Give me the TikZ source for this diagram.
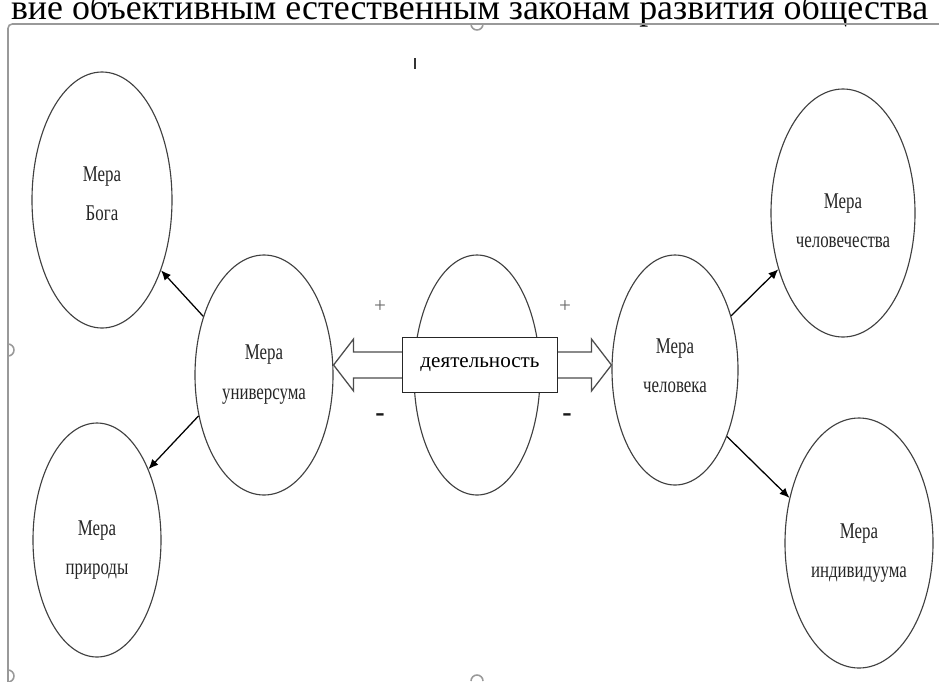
\documentclass[tikz,border=0pt]{standalone}
\usepackage{fontspec}
\setmainfont{Liberation Serif}
\newfontfamily\narrowfont[FakeStretch=0.75]{Liberation Serif}
\usetikzlibrary{
    arrows.meta,
    shapes.geometric
}

\begin{document}
\begin{tikzpicture}[->,>={Latex[length=7pt,width=6pt]},line width=0.9pt]
    \tikzstyle{mera}=[shape=ellipse, draw=black!75, line width=0.8pt, inner sep=0pt]
    \tikzstyle{meratext}=[align=center, text=black!85, font=\narrowfont\fontsize{16}{28}\selectfont]
    \tikzstyle{frameline}=[-, draw=black!40, line width=1.1pt]
    \tikzstyle{blockarrow}=[-, draw=black!70, line width=0.9pt, fill=white]
    \tikzstyle{sign}=[text=black!60, font=\rmfamily\fontsize{15}{15}\selectfont]
	\fill[white] (0,0) rectangle (23.475,-17.025);
	\useasboundingbox (0,0) rectangle (23.475,-17.025);

	\node[anchor=base, font=\rmfamily\fontsize{25.5}{30}\selectfont] (title) at (11.74, -0.48) {вие объективным естественным законам развития общества};
	\draw[frameline, rounded corners=3pt] (0.2, -17.1) |- (23.6, -0.6);
	\draw[frameline] (11.775, -0.6) arc (180:360:0.15);
	\draw[frameline] (0.2, -8.6) arc (90:-90:0.15);
	\draw[frameline] (0.2, -16.75) arc (90:-90:0.15);
	\draw[frameline] (11.775, -17.025) arc (180:0:0.15);
	\draw[-, line width=1.6pt, black!80] (10.375, -1.45) -- (10.375, -1.725);

	% ellipses
	\node[mera, minimum width=3.5cm, minimum height=6.4cm] (boga) at (2.55, -5.0) {};
	\node[mera, minimum width=3.45cm, minimum height=6.0cm] (univ) at (6.6, -9.375) {};
	\node[mera, minimum width=3.2cm, minimum height=5.85cm] (prir) at (2.425, -13.5) {};
	\node[mera, minimum width=3.15cm, minimum height=6.0cm] (mid) at (11.925, -9.375) {};
	\node[mera, minimum width=3.15cm, minimum height=5.75cm] (chel) at (16.875, -9.25) {};
	\node[mera, minimum width=3.6cm, minimum height=6.2cm] (chelv) at (21.075, -5.325) {};
	\node[mera, minimum width=3.7cm, minimum height=6.25cm] (indiv) at (21.475, -13.575) {};

	% texts
	\node[meratext] (bogaT) at (2.55, -4.85) {Мера\\ Бога};
	\node[meratext] (univT) at (6.6, -9.36) {Мера\\ универсума};
	\node[meratext] (prirT) at (2.425, -13.75) {Мера\\ природы};
	\node[meratext] (chelT) at (16.875, -9.15) {Мера\\ человека};
	\node[meratext] (chelvT) at (21.075, -5.525) {Мера\\ человечества};
	\node[meratext] (indivT) at (21.475, -13.825) {Мера\\ индивидуума};

	\draw (univ.136) -- (boga.-50);
	\draw (univ.212) -- (prir.54);
	\draw (chel.44) -- (chelv.221);
	\draw (chel.-52) -- (indiv.147);

	\node[draw=black!85, fill=white, line width=0.9pt, minimum width=3.875cm, minimum height=1.375cm, font=\rmfamily\fontsize{15}{15}\selectfont] (box) at (12.0, -9.125) {деятельность};
	\coordinate (ltip) at (univ.east |- box.west);
	\coordinate (rtip) at (chel.west |- box.east);
	\draw[blockarrow] ([yshift=0.325cm]box.west) -- ([xshift=0.5cm, yshift=0.325cm]ltip) -- ([xshift=0.5cm, yshift=0.65cm]ltip) -- (ltip) -- ([xshift=0.5cm, yshift=-0.65cm]ltip) -- ([xshift=0.5cm, yshift=-0.325cm]ltip) -- ([yshift=-0.325cm]box.west);
	\draw[blockarrow] ([yshift=0.325cm]box.east) -- ([xshift=-0.5cm, yshift=0.325cm]rtip) -- ([xshift=-0.5cm, yshift=0.65cm]rtip) -- (rtip) -- ([xshift=-0.5cm, yshift=-0.65cm]rtip) -- ([xshift=-0.5cm, yshift=-0.325cm]rtip) -- ([yshift=-0.325cm]box.east);

	\node[sign] (lplus) at (9.5, -7.675) {+};
	\node[sign] (rplus) at (14.125, -7.675) {+};
	\node[sign, text=black!90, font=\rmfamily\bfseries\fontsize{20}{20}\selectfont] (lminus) at (9.5, -10.45) {-};
	\node[sign, text=black!90, font=\rmfamily\bfseries\fontsize{20}{20}\selectfont] (rminus) at (14.175, -10.45) {-};
    \end{tikzpicture}
\end{document}
